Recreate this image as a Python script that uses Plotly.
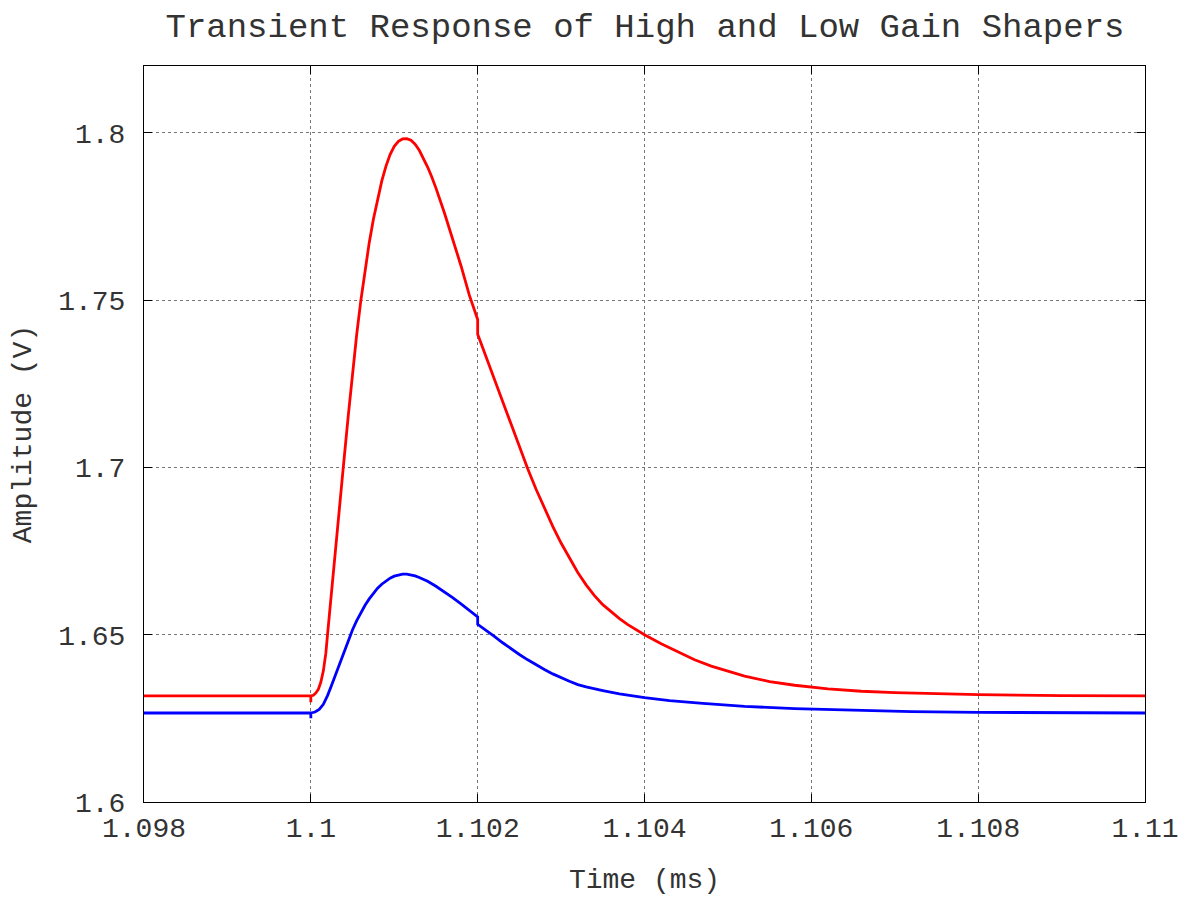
import plotly.graph_objects as go

# High gain shaper (red)
t_high = [1.098, 1.1, 1.1, 1.1, 1.10003, 1.10006, 1.10009, 1.10012, 1.10015, 1.10018,
          1.1002, 1.10024, 1.10028, 1.10033, 1.10039, 1.10045, 1.1005, 1.10055,
          1.1006, 1.10065, 1.1007, 1.10075, 1.1008, 1.10085, 1.1009, 1.10095,
          1.101, 1.10105, 1.1011, 1.10115, 1.1012, 1.10125, 1.1013, 1.10135,
          1.1014, 1.10145, 1.1015, 1.1016, 1.1017, 1.1018, 1.1019, 1.102, 1.102,
          1.1021, 1.1022, 1.1023, 1.1024, 1.1025, 1.1026, 1.1027, 1.1028, 1.1029,
          1.103, 1.1031, 1.1032, 1.1033, 1.1034, 1.1035, 1.1036, 1.1037, 1.1038,
          1.1039, 1.104, 1.1042, 1.1044, 1.1046, 1.1048, 1.105, 1.1052, 1.1055,
          1.1058, 1.1062, 1.1066, 1.107, 1.1075, 1.108, 1.109, 1.11]
v_high = [1.6317, 1.6317, 1.6298, 1.6317, 1.6319, 1.6326, 1.6337, 1.6358, 1.6392, 1.6445,
          1.6500, 1.6610, 1.6720, 1.6855, 1.7003, 1.7158, 1.7283, 1.7398,
          1.7500, 1.7592, 1.7672, 1.7742, 1.7802, 1.7856, 1.7900, 1.7935,
          1.7960, 1.7975, 1.7982, 1.7983, 1.7978, 1.7966, 1.7948, 1.7925,
          1.7898, 1.7868, 1.7835, 1.7762, 1.7684, 1.7603, 1.7515, 1.7442, 1.7398,
          1.7330, 1.7262, 1.7194, 1.7126, 1.7060, 1.6996, 1.6935, 1.6877, 1.6824,
          1.6774, 1.6728, 1.6686, 1.6649, 1.6617, 1.6590, 1.6568, 1.6548, 1.6530,
          1.6514, 1.6500, 1.6473, 1.6448, 1.6425, 1.6406, 1.6390, 1.6376, 1.6360,
          1.6349, 1.6338, 1.6331, 1.6327, 1.6323, 1.6321, 1.6318, 1.6317]

# Low gain shaper (blue)
t_low = [1.098, 1.1, 1.1, 1.1, 1.10005, 1.1001, 1.10015, 1.1002, 1.10025, 1.1003,
         1.10035, 1.1004, 1.10045, 1.1005, 1.10055, 1.1006, 1.10065, 1.1007,
         1.10075, 1.1008, 1.10085, 1.1009, 1.10095, 1.101, 1.10105, 1.1011,
         1.10115, 1.1012, 1.10125, 1.1013, 1.1014, 1.1015, 1.1016, 1.1017,
         1.1018, 1.1019, 1.102, 1.102, 1.1021, 1.1022, 1.1023, 1.1024, 1.1025,
         1.1026, 1.1027, 1.1028, 1.1029, 1.103, 1.1031, 1.1032, 1.1033, 1.1035,
         1.1037, 1.104, 1.1043, 1.1047, 1.1052, 1.1058, 1.1065, 1.1072, 1.108,
         1.109, 1.11]
v_low = [1.6266, 1.6266, 1.6250, 1.6266, 1.6269, 1.6277, 1.6292, 1.6318, 1.6350, 1.6383,
         1.6416, 1.6452, 1.6486, 1.6515, 1.6542, 1.6566, 1.6588, 1.6607,
         1.6624, 1.6639, 1.6651, 1.6661, 1.6669, 1.6675, 1.6679, 1.6681,
         1.6681, 1.6679, 1.6676, 1.6671, 1.6660, 1.6645, 1.6629, 1.6611,
         1.6592, 1.6572, 1.6553, 1.6531, 1.6514, 1.6495, 1.6476, 1.6458, 1.6441,
         1.6425, 1.6410, 1.6396, 1.6383, 1.6371, 1.6361, 1.6351, 1.6344, 1.6333,
         1.6323, 1.6312, 1.6303, 1.6295, 1.6286, 1.6279, 1.6274, 1.6270, 1.6268,
         1.6267, 1.6266]

x_tickvals = [1.098, 1.1, 1.102, 1.104, 1.106, 1.108, 1.11]
x_ticktext = ["1.098", "1.1", "1.102", "1.104", "1.106", "1.108", "1.11"]
y_tickvals = [1.6, 1.65, 1.7, 1.75, 1.8]
y_ticktext = ["1.6", "1.65", "1.7", "1.75", "1.8"]

FONT = "Liberation Mono, Courier New, monospace"
TXT = "#333333"

fig = go.Figure()
fig.add_trace(go.Scatter(x=t_high, y=v_high, mode="lines",
                         line=dict(color="#ff0000", width=2.8), showlegend=False))
fig.add_trace(go.Scatter(x=t_low, y=v_low, mode="lines",
                         line=dict(color="#0000ff", width=2.8), showlegend=False))

axis_common = dict(
    showline=True, linecolor="black", linewidth=1, mirror="ticks",
    ticks="inside", ticklen=8, tickcolor="black", tickwidth=1,
    showgrid=True, gridcolor="#777777", griddash="dot", gridwidth=1,
    zeroline=False, tickfont=dict(family=FONT, size=28, color=TXT),
)

fig.update_layout(
    width=1196, height=897,
    margin=dict(l=136, r=59, t=58, b=103),
    paper_bgcolor="white", plot_bgcolor="white",
    title=dict(text="Transient Response of High and Low Gain Shapers",
               font=dict(family=FONT, size=34, color=TXT),
               x=0.5326, xanchor="center", y=1 - 17 / 897, yanchor="middle"),
    xaxis=dict(range=[1.098, 1.11], tickvals=x_tickvals, ticktext=x_ticktext,
               title=dict(text="Time (ms)", font=dict(family=FONT, size=28, color=TXT),
                          standoff=24),
               **axis_common),
    yaxis=dict(range=[1.6, 1.82], tickvals=y_tickvals, ticktext=y_ticktext,
               title=dict(text="Amplitude (V)", font=dict(family=FONT, size=28, color=TXT),
                          standoff=19),
               ticklabelstandoff=12,
               **axis_common),
)

fig.write_html("out.html")
